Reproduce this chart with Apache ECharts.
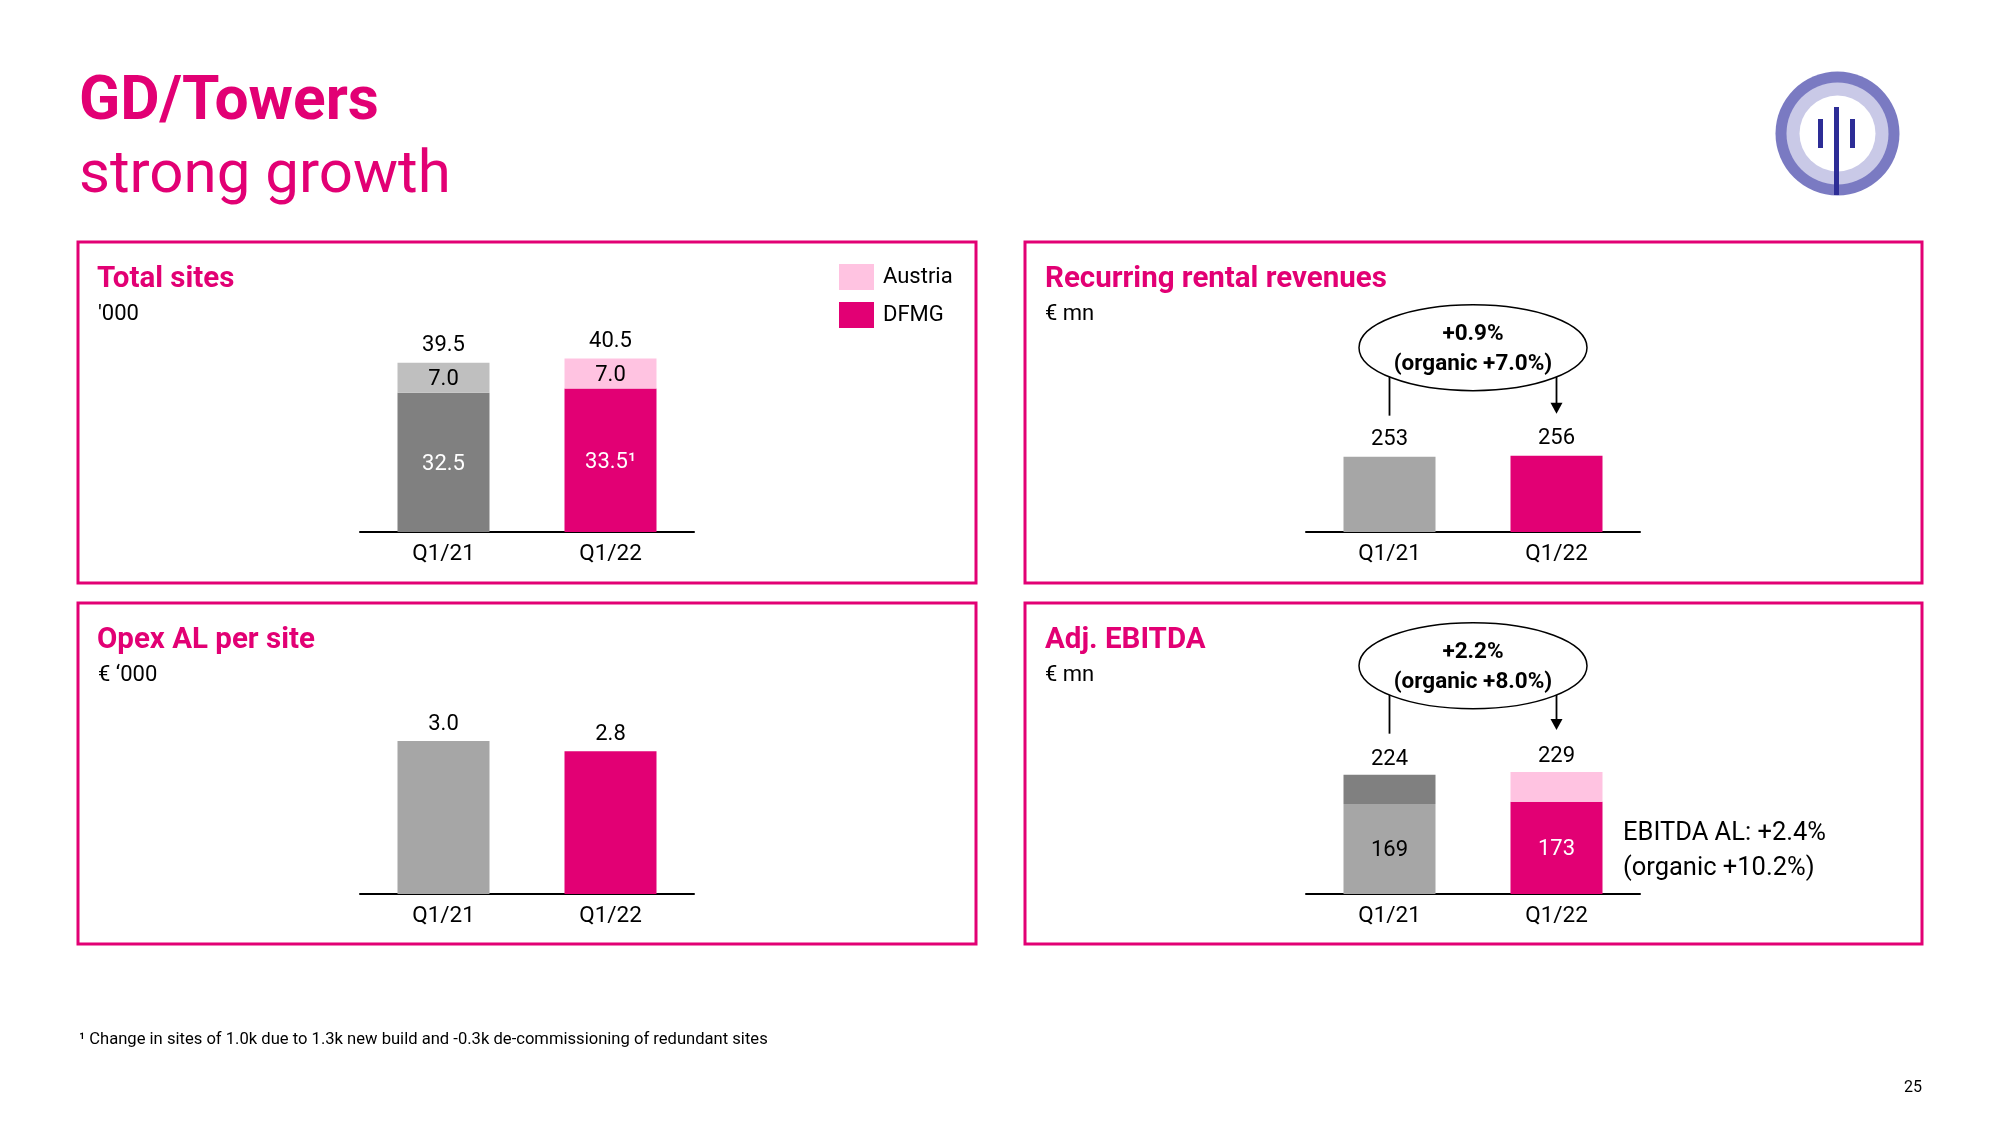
<!DOCTYPE html>
<html><head><meta charset="utf-8">
<script src="https://cdn.jsdelivr.net/npm/echarts@6/dist/echarts.min.js"></script>
<style>html,body{margin:0;padding:0;background:#fff}#c{width:2000px;height:1125px}</style>
</head><body><div id="c"></div>
<script>
// ---------- data ----------
const quarters = ['Q1/21', 'Q1/22'];
const sitesDFMG = [32.5, 33.5];
const sitesAustria = [7.0, 7.0];
const sitesTotal = [39.5, 40.5];
const rentalRevenue = [253, 256];
const opexPerSite = [3.0, 2.8];
const ebitdaAL = [169, 173];
const ebitdaTotal = [224, 229];
const ebitdaOther = ebitdaTotal.map((t, i) => t - ebitdaAL[i]);
const rentalGrowth = ['+0.9%', '(organic +7.0%)'];
const ebitdaGrowth = ['+2.2%', '(organic +8.0%)'];

// ---------- styles ----------
const FONT = 'Roboto, "Noto Sans", sans-serif';
const MAG = '#E20074', PINK = '#FFC3E1';
const G_DARK = '#808080', G_MID = '#A6A6A6', G_LIGHT = '#BFBFBF';

const chart = echarts.init(document.getElementById('c'), null, {renderer: 'canvas'});

const xAx = gi => ({
  type: 'category', gridIndex: gi, data: quarters,
  axisLine: {show: true, lineStyle: {color: '#000', width: 2}},
  axisTick: {show: false}, splitLine: {show: false},
  axisLabel: {fontSize: 22.5, color: '#000', margin: 11, fontFamily: FONT}
});
const yAx = (gi, max) => ({type: 'value', gridIndex: gi, min: 0, max: max, show: false, splitLine: {show: false}});
const lbl = (extra) => Object.assign({show: true, fontSize: 22, fontFamily: FONT, color: '#000'}, extra);
const colored = (arr, colors) => arr.map((v, i) => ({value: v, itemStyle: {color: colors[i]}}));

const option = {
  animation: false,
  backgroundColor: '#fff',
  textStyle: {fontFamily: FONT},
  legend: {
    data: ['Austria', 'DFMG'], orient: 'vertical', left: 839, top: 264, padding: 0,
    itemWidth: 35, itemHeight: 26, itemGap: 12, icon: 'rect', selectedMode: false,
    textStyle: {fontSize: 22, color: '#000', fontFamily: FONT, padding: [5, 0, 0, 4]}
  },
  grid: [
    {left: 360, width: 334, top: 320, height: 212},
    {left: 1306, width: 334, top: 320, height: 212},
    {left: 360, width: 334, top: 690, height: 204},
    {left: 1306, width: 334, top: 682, height: 212}
  ],
  xAxis: [xAx(0), xAx(1), xAx(2), xAx(3)],
  yAxis: [yAx(0, 49.5), yAx(1, 712), yAx(2, 4), yAx(3, 398)],
  series: [
    {name: 'DFMG', type: 'bar', xAxisIndex: 0, yAxisIndex: 0, stack: 'sites', barWidth: 92,
      itemStyle: {color: MAG}, data: colored(sitesDFMG, [G_DARK, MAG]),
      label: lbl({position: 'inside', color: '#fff', offset: [0, 2],
        formatter: p => sitesDFMG[p.dataIndex].toFixed(1) + (p.dataIndex === 1 ? '¹' : '')})},
    {name: 'Austria', type: 'bar', xAxisIndex: 0, yAxisIndex: 0, stack: 'sites', barWidth: 92,
      itemStyle: {color: PINK}, data: colored(sitesAustria, [G_LIGHT, PINK]),
      label: lbl({position: 'inside', offset: [0, 2], formatter: p => sitesAustria[p.dataIndex].toFixed(1)})},
    {name: 'sitesTotal', type: 'scatter', xAxisIndex: 0, yAxisIndex: 0, symbolSize: 1, silent: true,
      itemStyle: {color: 'rgba(0,0,0,0)', opacity: 1}, data: sitesTotal,
      label: lbl({position: 'top', distance: 6, formatter: p => sitesTotal[p.dataIndex].toFixed(1)})},

    {name: 'rental', type: 'bar', xAxisIndex: 1, yAxisIndex: 1, barWidth: 92,
      data: colored(rentalRevenue, [G_MID, MAG]),
      label: lbl({position: 'top', distance: 6, formatter: p => String(rentalRevenue[p.dataIndex])})},

    {name: 'opex', type: 'bar', xAxisIndex: 2, yAxisIndex: 2, barWidth: 92,
      data: colored(opexPerSite, [G_MID, MAG]),
      label: lbl({position: 'top', distance: 6, formatter: p => opexPerSite[p.dataIndex].toFixed(1)})},

    {name: 'ebitdaAL', type: 'bar', xAxisIndex: 3, yAxisIndex: 3, stack: 'ebitda', barWidth: 92,
      data: ebitdaAL.map((v, i) => ({value: v, itemStyle: {color: [G_MID, MAG][i]},
        label: {color: ['#000', '#fff'][i]}})),
      label: lbl({position: 'inside', offset: [0, 2], formatter: p => String(ebitdaAL[p.dataIndex])})},
    {name: 'ebitdaOther', type: 'bar', xAxisIndex: 3, yAxisIndex: 3, stack: 'ebitda', barWidth: 92,
      data: colored(ebitdaOther, [G_DARK, PINK]), label: {show: false}},
    {name: 'ebitdaTotal', type: 'scatter', xAxisIndex: 3, yAxisIndex: 3, symbolSize: 1, silent: true,
      itemStyle: {color: 'rgba(0,0,0,0)', opacity: 1}, data: ebitdaTotal,
      label: lbl({position: 'top', distance: 4, formatter: p => String(ebitdaTotal[p.dataIndex])})}
  ]
};
chart.setOption(option);

// ---------- annotations / decoration ----------
function txt(x, y, text, size, opts) {
  opts = opts || {};
  return {type: 'text', x: x, y: y, z: 20, silent: true,
    style: {text: text, fontSize: size, fontFamily: FONT, fontWeight: opts.weight || 'normal',
      fill: opts.color || '#000', align: opts.align || 'left', verticalAlign: 'middle',
      textAlign: opts.align || 'left', textVerticalAlign: 'middle'}};
}
function panel(x, y, w, h) {
  return {type: 'rect', z: 1, silent: true, shape: {x: x, y: y, width: w, height: h},
    style: {fill: 'none', stroke: MAG, lineWidth: 3}};
}
function bubble(gi, values, lines) {
  const L = chart.convertToPixel({gridIndex: gi}, [0, values[0]]);
  const R = chart.convertToPixel({gridIndex: gi}, [1, values[1]]);
  const cx = (L[0] + R[0]) / 2, cy = L[1] - 109, rx = 114, ry = 43;
  const edgeY = x => cy + ry * Math.sqrt(Math.max(0, 1 - Math.pow((x - cx) / rx, 2)));
  const endL = L[1] - 41, endR = R[1] - 42;
  return [
    {type: 'ellipse', z: 10, silent: true, shape: {cx: cx, cy: cy, rx: rx, ry: ry},
      style: {fill: '#fff', stroke: '#000', lineWidth: 1.5}},
    {type: 'line', z: 10, silent: true, shape: {x1: L[0], y1: edgeY(L[0]), x2: L[0], y2: endL},
      style: {stroke: '#000', lineWidth: 1.8}},
    {type: 'line', z: 10, silent: true, shape: {x1: R[0], y1: edgeY(R[0]), x2: R[0], y2: endR - 8},
      style: {stroke: '#000', lineWidth: 1.8}},
    {type: 'polygon', z: 10, silent: true, shape: {points: [[R[0] - 6, endR - 11], [R[0] + 6, endR - 11], [R[0], endR]]},
      style: {fill: '#000'}},
    txt(cx, cy - 13, lines[0], 22.5, {weight: 'bold', align: 'center'}),
    txt(cx, cy + 17, lines[1], 22.5, {weight: 'bold', align: 'center'})
  ];
}

const LOGO = '#2D2D96';
const elements = [
  txt(79, 103.5, 'GD/Towers', 60.5, {weight: 'bold', color: MAG}),
  txt(79, 177, 'strong growth', 60, {color: MAG}),

  panel(78, 242, 898, 341), panel(1025, 242, 897, 341),
  panel(78, 603, 898, 341), panel(1025, 603, 897, 341),

  txt(97, 280, 'Total sites', 29.5, {weight: 'bold', color: MAG}),
  txt(98, 314.5, "'000", 22),
  txt(1045, 280, 'Recurring rental revenues', 29.5, {weight: 'bold', color: MAG}),
  txt(1045, 314.5, '€ mn', 22),
  txt(97, 641, 'Opex AL per site', 29.5, {weight: 'bold', color: MAG}),
  txt(98, 675, '€ ‘000', 22),
  txt(1045, 641, 'Adj. EBITDA', 29.5, {weight: 'bold', color: MAG}),
  txt(1045, 675, '€ mn', 22),

  txt(1623, 834, 'EBITDA AL: +2.4%', 25.5),
  txt(1623, 869, '(organic +10.2%)', 25.5),

  txt(79, 1040, '¹ Change in sites of 1.0k due to 1.3k new build and -0.3k de-commissioning of redundant sites', 16.6),
  txt(1922, 1088, '25', 16, {align: 'right'}),

  {type: 'circle', z: 5, silent: true, shape: {cx: 1837.5, cy: 133.5, r: 62}, style: {fill: '#7A7AC2'}},
  {type: 'circle', z: 5, silent: true, shape: {cx: 1837.5, cy: 133.5, r: 51}, style: {fill: '#C9C9E7'}},
  {type: 'circle', z: 5, silent: true, shape: {cx: 1837.5, cy: 133.5, r: 38}, style: {fill: '#FFFFFF'}},
  {type: 'rect', z: 6, silent: true, shape: {x: 1834, y: 107, width: 5, height: 88}, style: {fill: LOGO}},
  {type: 'rect', z: 6, silent: true, shape: {x: 1818, y: 119, width: 5, height: 29}, style: {fill: LOGO}},
  {type: 'rect', z: 6, silent: true, shape: {x: 1850, y: 119, width: 5, height: 29}, style: {fill: LOGO}}
].concat(bubble(1, rentalRevenue, rentalGrowth), bubble(3, ebitdaTotal, ebitdaGrowth));

chart.setOption({graphic: {elements: elements}});
</script>
</body></html>
